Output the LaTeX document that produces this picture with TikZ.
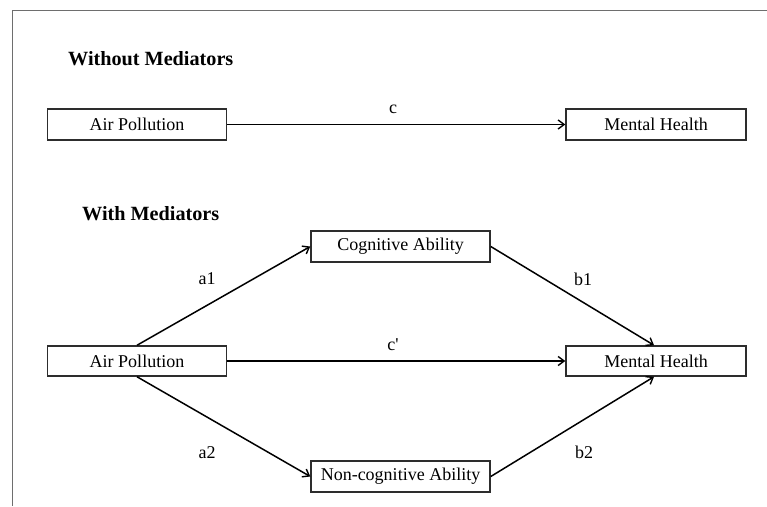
\documentclass[tikz,border=0pt]{standalone}
\usepackage{fontspec}
\setmainfont{Liberation Serif}
\usetikzlibrary{arrows.meta}
\definecolor{framegray}{RGB}{110,110,110}
\definecolor{boxgray}{RGB}{45,45,45}
\tikzset{
  varbox/.style={draw=boxgray, line width=1.5pt, fill=white, inner sep=0pt,
    minimum width=179pt, minimum height=31pt, font=\fontsize{18}{21}\selectfont},
  path arrow/.style={draw=black, line width=1.5pt, -{Straight Barb[length=6pt,width=9pt,line width=1.4pt]}},
  lbl/.style={inner sep=0pt, font=\fontsize{18}{21}\selectfont},
  heading/.style={inner sep=0pt, anchor=west, font=\fontsize{20.2}{24}\selectfont\bfseries}
}
\begin{document}
\begin{tikzpicture}[x=1pt,y=-1pt]
\useasboundingbox (0,0) rectangle (767,506);
% partial frame
\draw[framegray, line width=1.1pt] (767,10.5) -- (12.5,10.5) -- (12.5,506);
% headings
\node[heading] (h1) at (68,59) {Without Mediators};
\node[heading] (h2) at (82,214) {With Mediators};
% top model
\node[varbox] (tAP) at (137,124.5) {Air Pollution};
\node[varbox, minimum width=180pt] (tMH) at (656,124.5) {Mental Health};
\draw[path arrow] (tAP.east) -- (tMH.west);
\node[lbl] (lc) at (393,109) {c};
% mediation model
\node[varbox, minimum height=30pt] (AP) at (137,361) {Air Pollution};
\node[varbox, minimum width=180pt, minimum height=30pt] (MH) at (656,361) {Mental Health};
\node[varbox] (CA) at (400.5,246.5) {Cognitive Ability};
\node[varbox] (NCA) at (400.5,476.5) {Non-cognitive Ability};
\draw[path arrow] (AP.north) -- (CA.west);
\draw[path arrow] (AP.south) -- (NCA.west);
\draw[path arrow] (CA.east) -- ([xshift=-2pt]MH.north);
\draw[path arrow] (NCA.east) -- ([xshift=-2pt]MH.south);
\draw[path arrow] (AP.east) -- (MH.west);
\node[lbl] (la1) at (207,279) {a1};
\node[lbl] (lb1) at (583,279) {b1};
\node[lbl] (lcp) at (393,345) {c\XeTeXglyph\XeTeXcharglyph"27};
\node[lbl] (la2) at (207,453) {a2};
\node[lbl] (lb2) at (584,452) {b2};
\end{tikzpicture}
\end{document}
